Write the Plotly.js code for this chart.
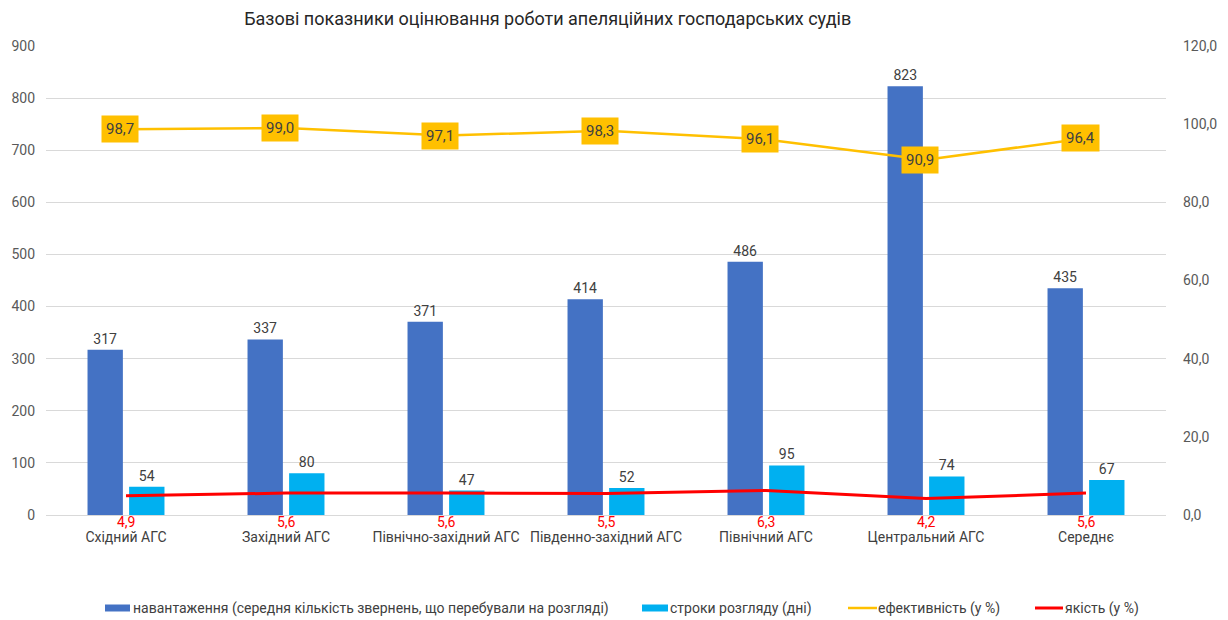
<!DOCTYPE html>
<html><head><meta charset="utf-8">
<script src="https://cdn.plot.ly/plotly-3.0.1.min.js"></script>
<style>body{margin:0;background:#fff}#c{width:1228px;height:620px}</style>
</head><body><div id="c"></div>
<script>
const categories = ["Східний АГС","Західний АГС","Північно-західний АГС","Південно-західний АГС","Північний АГС","Центральний АГС","Середнє"];
const workload = [317,337,371,414,486,823,435];
const duration = [54,80,47,52,95,74,67];
const efficiency = [98.7,99.0,97.1,98.3,96.1,90.9,96.4];
const quality = [4.9,5.6,5.6,5.5,6.3,4.2,5.6];
const leftTicks = [0,100,200,300,400,500,600,700,800,900];
const rightTicks = [0,20,40,60,80,100,120];
const seriesNames = ['навантаження (середня кількість звернень, що перебували на розгляді)','строки розгляду (дні)','ефективність (у %)','якість (у %)'];
const seriesColors = ['#4472C4','#00B0F0','#FFC000','#FF0000'];

const fmt1 = v => v.toFixed(1).replace('.', ',');
const F = 'Roboto, "Noto Sans", sans-serif';

const traces = [
  {type:'bar', name:seriesNames[0], x:categories, y:workload,
   marker:{color:seriesColors[0]}, text:workload.map(String), textposition:'outside', cliponaxis:false,
   textfont:{family:F,size:14,color:'#404040'}, hoverinfo:'none'},
  {type:'bar', name:seriesNames[1], x:categories, y:duration,
   marker:{color:seriesColors[1]}, text:duration.map(String), textposition:'outside', cliponaxis:false,
   textfont:{family:F,size:14,color:'#404040'}, hoverinfo:'none'},
  {type:'scatter', mode:'lines', name:seriesNames[2], x:categories, y:efficiency, yaxis:'y2',
   line:{color:seriesColors[2], width:2.5}, hoverinfo:'none'},
  {type:'scatter', mode:'lines', name:seriesNames[3], x:categories, y:quality, yaxis:'y2',
   line:{color:seriesColors[3], width:3}, hoverinfo:'none'}
];

const annotations = [];
categories.forEach((c,i)=>{
  annotations.push({x:c, y:efficiency[i], xref:'x', yref:'y2', text:fmt1(efficiency[i]), showarrow:false,
    bgcolor:'#FFC000', borderpad:4, font:{family:F,size:15,color:'#404040'}, xshift:-6});
  annotations.push({x:c, y:0, xref:'x', yref:'y2', text:fmt1(quality[i]), showarrow:false,
    yshift:-7, font:{family:F,size:14,color:'#FF0000'}});
});

// custom legend (pixel layout converted to paper coords)
const L = 46, W = 1120, B = 515, H = 469;
const px = v => (v - L) / W;
const py = v => (B - v) / H;
const legY = 608;
const legItems = [
  {sym:'rect', x0:105, x1:130, tx:132},
  {sym:'rect', x0:642, x1:668, tx:669},
  {sym:'line', x0:848, x1:877, tx:877},
  {sym:'line', x0:1035, x1:1063, tx:1064}
];
const shapes = [];
legItems.forEach((it,i)=>{
  if (it.sym === 'rect') {
    shapes.push({type:'rect', xref:'paper', yref:'paper', x0:px(it.x0), x1:px(it.x1), y0:py(legY-3.5), y1:py(legY+3.5),
      fillcolor:seriesColors[i], line:{width:0}});
  } else {
    shapes.push({type:'line', xref:'paper', yref:'paper', x0:px(it.x0), x1:px(it.x1), y0:py(legY), y1:py(legY),
      line:{color:seriesColors[i], width: i===3 ? 3 : 2.5}});
  }
  annotations.push({xref:'paper', yref:'paper', x:px(it.tx), y:py(legY), xanchor:'left', yanchor:'middle', showarrow:false,
    text:seriesNames[i], font:{family:F,size:14,color:'#404040'}, borderpad:0});
});

const layout = {
  width:1228, height:620,
  margin:{l:46, r:62, t:46, b:105},
  paper_bgcolor:'#fff', plot_bgcolor:'#fff',
  separators:', ',
  title:{text:'Базові показники оцінювання роботи апеляційних господарських судів', x:0.446, xanchor:'center', y:0.97, yanchor:'middle',
    font:{family:F,size:18,color:'#262626'}},
  barmode:'group', bargap:0.48, bargroupgap:0.15,
  font:{family:F, color:'#595959', size:14},
  xaxis:{tickfont:{family:F,size:14,color:'#404040'}, showgrid:false, zeroline:false, showline:false, ticks:'', automargin:false, ticklabelstandoff:12},
  yaxis:{range:[0,900], tickvals:leftTicks, ticktext:leftTicks.map(String), showgrid:true, gridcolor:'#D9D9D9', gridwidth:1,
    zeroline:true, zerolinecolor:'#D9D9D9', zerolinewidth:1, tickfont:{family:F,size:14,color:'#595959'}, ticklabelstandoff:10, automargin:false},
  yaxis2:{range:[0,120], overlaying:'y', side:'right', tickvals:rightTicks, ticktext:rightTicks.map(fmt1), showgrid:false, zeroline:false,
    tickfont:{family:F,size:14,color:'#595959'}, ticklabelstandoff:16, automargin:false},
  showlegend:false,
  shapes:shapes,
  annotations:annotations
};

Plotly.newPlot('c', traces, layout, {staticPlot:true, displayModeBar:false});
</script></body></html>
